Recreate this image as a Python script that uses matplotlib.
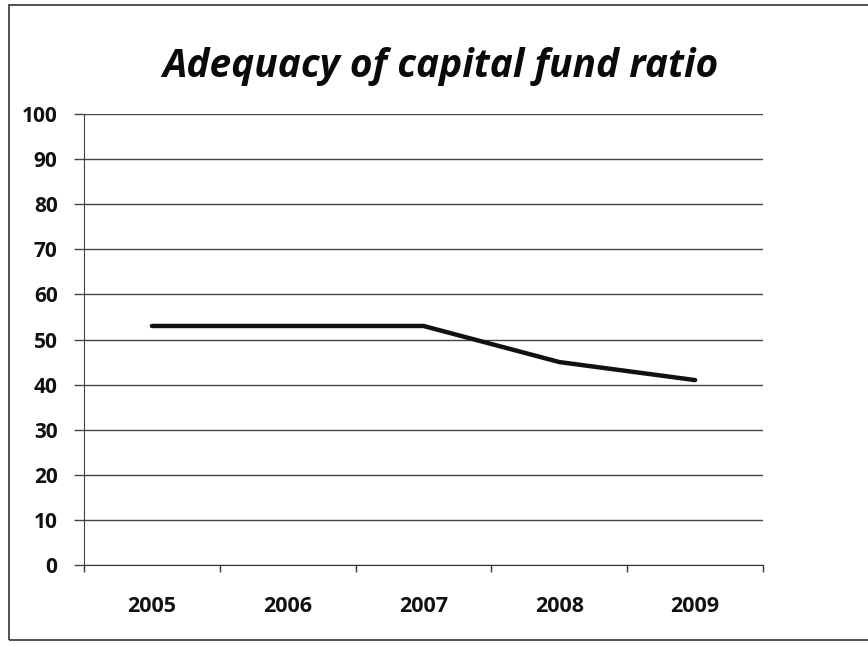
import matplotlib
matplotlib.use("Agg")
import matplotlib.pyplot as plt
from matplotlib.patches import Rectangle

years = ["2005", "2006", "2007", "2008", "2009"]
ratio = [53, 53, 53, 45, 41]
yticks = [0, 10, 20, 30, 40, 50, 60, 70, 80, 90, 100]

plt.rcParams['font.family'] = ['Open Sans', 'DejaVu Sans']

W, H = 868, 647
fig = plt.figure(figsize=(W / 100, H / 100), dpi=100)
ax = fig.add_axes([84 / W, 1 - 565 / H, (763 - 84) / W, (565 - 114) / H])

x = list(range(len(years)))
ax.plot(x, ratio, color="#111111", lw=3.2, solid_capstyle="round", zorder=3)

ax.set_xlim(-0.5, len(years) - 0.5)
ax.set_ylim(0, 100)
ax.set_yticks(yticks)
ax.set_yticklabels([str(v) for v in yticks], fontsize=15, fontweight="bold", color="#111111")
ax.yaxis.grid(True, color="#444444", lw=1.0)
ax.set_axisbelow(True)

ax.set_xticks([i - 0.5 for i in range(len(years) + 1)])
ax.set_xticklabels([])
ax.set_xticks(x, minor=True)
ax.set_xticklabels(years, minor=True, fontsize=15.5, fontweight="bold", color="#111111")
ax.tick_params(axis="x", which="major", direction="out", length=5, width=1, color="#333333")
ax.tick_params(axis="x", which="minor", length=0, pad=22)
ax.tick_params(axis="y", direction="out", length=7, width=1, color="#444444", pad=12)

for s in ["top", "right"]:
    ax.spines[s].set_visible(False)
ax.spines["left"].set_color("#444444")
ax.spines["bottom"].set_color("#333333")

fig.text(440 / W, 1 - 67 / H, "Adequacy of capital fund ratio", ha="center", va="center",
         fontsize=28, fontweight="bold", fontstyle="italic", color="#0a0a0a")

fig.patches.append(Rectangle((9 / W, 1 - 640 / H), (W + 20) / W, (640 - 5) / H,
                             transform=fig.transFigure, fill=False, lw=1.2,
                             edgecolor="#333333", figure=fig))

fig.savefig("out.png", dpi=100)
